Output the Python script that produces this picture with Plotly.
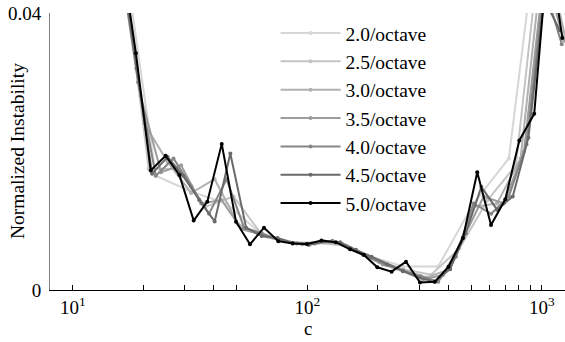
import plotly.graph_objects as go
import math

# ---- data ----
labels = ["2.0/octave", "2.5/octave", "3.0/octave", "3.5/octave", "4.0/octave", "4.5/octave", "5.0/octave"]
colors = ["#d6d6d6", "#c4c4c4", "#b0b0b0", "#9c9c9c", "#868686", "#6a6a6a", "#000000"]

c_20 = [16, 22.6, 32, 45.3, 64, 90.5, 128, 181, 256, 362, 512, 724, 1024, 1448]
y_20 = [0.052, 0.0165, 0.0142, 0.0125, 0.0080, 0.0068, 0.0070, 0.0050, 0.0034, 0.0034, 0.0125, 0.019, 0.060, 0.040]

c_25 = [16, 21.1, 27.9, 36.8, 48.5, 64, 84.4, 111.4, 147, 194, 256, 337.8, 445.7, 588.1, 776, 1024, 1351]
y_25 = [0.050, 0.0175, 0.0175, 0.0120, 0.0135, 0.0080, 0.0069, 0.0068, 0.0064, 0.0044, 0.0030, 0.0022, 0.0060, 0.0130, 0.018, 0.055, 0.035]

c_30 = [16, 20.2, 25.4, 32, 40.3, 50.8, 64, 80.6, 101.6, 128, 161.3, 203.2, 256, 322.5, 406.4, 512, 645.1, 812.7, 1024, 1290]
y_30 = [0.050, 0.024, 0.0185, 0.0140, 0.0160, 0.0095, 0.0078, 0.0070, 0.0066, 0.0070, 0.0058, 0.0040, 0.0029, 0.0018, 0.0030, 0.0120, 0.0125, 0.0190, 0.050, 0.035]

c_35 = [16, 19.5, 23.8, 29.0, 35.3, 43.1, 52.5, 64, 78.0, 95.1, 115.9, 141.3, 172.3, 210.0, 256, 312.1, 380.4, 463.8, 565.3, 689.1, 840.0, 1024, 1248]
y_35 = [0.048, 0.028, 0.0170, 0.0180, 0.0125, 0.0130, 0.0088, 0.0080, 0.0071, 0.0066, 0.0070, 0.0066, 0.0051, 0.0037, 0.0027, 0.0015, 0.0022, 0.0075, 0.0135, 0.0125, 0.020, 0.046, 0.036]

c_40 = [16, 19.0, 22.6, 26.9, 32, 38.1, 45.3, 53.8, 64, 76.1, 90.5, 107.6, 128, 152.2, 181, 215.3, 256, 304.4, 362, 430.5, 512, 608.9, 724.1, 861.1, 1024, 1217.7]
y_40 = [0.047, 0.030, 0.0165, 0.0190, 0.0150, 0.0110, 0.0160, 0.0090, 0.0082, 0.0072, 0.0067, 0.0067, 0.0071, 0.0061, 0.0048, 0.0037, 0.0028, 0.0020, 0.0012, 0.0048, 0.0125, 0.0110, 0.0135, 0.021, 0.044, 0.0355]

c_45 = [16, 18.7, 21.8, 25.4, 29.6, 34.6, 40.3, 47.0, 54.9, 64, 74.7, 87.1, 101.6, 118.5, 138.2, 161.3, 188.1, 219.4, 256, 298.6, 348.3, 406.4, 474.0, 552.9, 645.1, 752.5, 877.8, 1024, 1194.5]
y_45 = [0.048, 0.032, 0.0168, 0.0192, 0.0165, 0.0130, 0.0099, 0.0197, 0.0090, 0.0078, 0.0075, 0.0068, 0.0065, 0.0070, 0.0069, 0.0058, 0.0048, 0.0037, 0.0027, 0.0018, 0.0012, 0.0030, 0.0082, 0.0149, 0.0116, 0.0135, 0.0220, 0.042, 0.0375]

c_50 = [16.2, 18.6, 21.5, 24.9, 28.5, 32.8, 37.5, 43.2, 49.7, 57.0, 65.4, 75.3, 86.7, 99.8, 115, 132.5, 152.2, 174.6, 199, 229, 263.8, 302.6, 350.6, 400.5, 461.6, 531, 607.9, 699.5, 802.8, 929, 1069.6, 1224]
y_50 = [0.048, 0.0342, 0.01725, 0.01937, 0.01662, 0.01002, 0.01276, 0.0211, 0.00987, 0.0066, 0.0090, 0.00705, 0.00672, 0.00665, 0.00713, 0.0069, 0.00588, 0.00506, 0.00328, 0.00265, 0.00409, 0.00108, 0.0012, 0.00337, 0.00752, 0.0170, 0.0094, 0.0131, 0.0216, 0.02544, 0.050, 0.0364]

series_c = [c_20, c_25, c_30, c_35, c_40, c_45, c_50]
series_y = [y_20, y_25, y_30, y_35, y_40, y_45, y_50]

x_tickvals = [10, 100, 1000]
x_ticktext = ["10<sup>1</sup>", "10<sup>2</sup>", "10<sup>3</sup>"]
x_minor_vals = [20, 30, 40, 50, 200, 300, 400, 500, 600, 700, 800, 900]
y_tickvals = [0, 0.04]
y_ticktext = ["0", "0.04"]

FONT = "Liberation Serif, Times New Roman, serif"

fig = go.Figure()
for i, (cx, cy) in enumerate(zip(series_c, series_y)):
    fig.add_trace(go.Scatter(
        x=cx, y=cy, mode="lines+markers", name=labels[i],
        line=dict(color=colors[i], width=2),
        marker=dict(color=colors[i], size=4),
    ))

fig.update_layout(
    width=565, height=342,
    margin=dict(l=50, r=0, t=13, b=52),
    paper_bgcolor="white", plot_bgcolor="white",
    font=dict(family=FONT, size=19, color="black"),
    showlegend=True,
    legend=dict(
        x=0.438, y=0.997, xanchor="left", yanchor="top",
        bgcolor="rgba(0,0,0,0)", borderwidth=0,
        font=dict(family=FONT, size=19.5, color="black"),
        itemwidth=60, traceorder="normal",
    ),
    xaxis=dict(
        type="log",
        range=[math.log10(8.0), math.log10(1257)],
        tickmode="array", tickvals=x_tickvals, ticktext=x_ticktext,
        ticks="inside", ticklen=5, tickcolor="black", tickwidth=1,
        minor=dict(tickmode="array", tickvals=x_minor_vals, ticks="inside",
                   ticklen=5, tickcolor="black", tickwidth=1, showgrid=False),
        showline=True, linecolor="black", linewidth=1,
        showgrid=False, zeroline=False,
        tickfont=dict(family=FONT, size=19),
    ),
    yaxis=dict(
        range=[0, 0.04],
        tickmode="array", tickvals=y_tickvals, ticktext=y_ticktext,
        ticks="inside", ticklen=4, tickcolor="#808080",
        showline=True, linecolor="#808080", linewidth=1,
        showgrid=False, zeroline=False,
        ticklabelstandoff=4,
        tickfont=dict(family=FONT, size=19),
    ),
    annotations=[
        dict(text="Normalized Instability", textangle=-90, xref="paper", yref="paper",
             x=-0.063, y=0.5, xanchor="center", yanchor="middle", showarrow=False,
             font=dict(family=FONT, size=19.5)),
        dict(text="c", xref="paper", yref="paper", x=0.5, y=-0.14, xanchor="center",
             yanchor="middle", showarrow=False, font=dict(family=FONT, size=19)),
    ],
)

fig.write_html("out.html",
               config={"displayModeBar": False},
               post_script="document.body.style.margin='0';document.body.style.padding='0';")
